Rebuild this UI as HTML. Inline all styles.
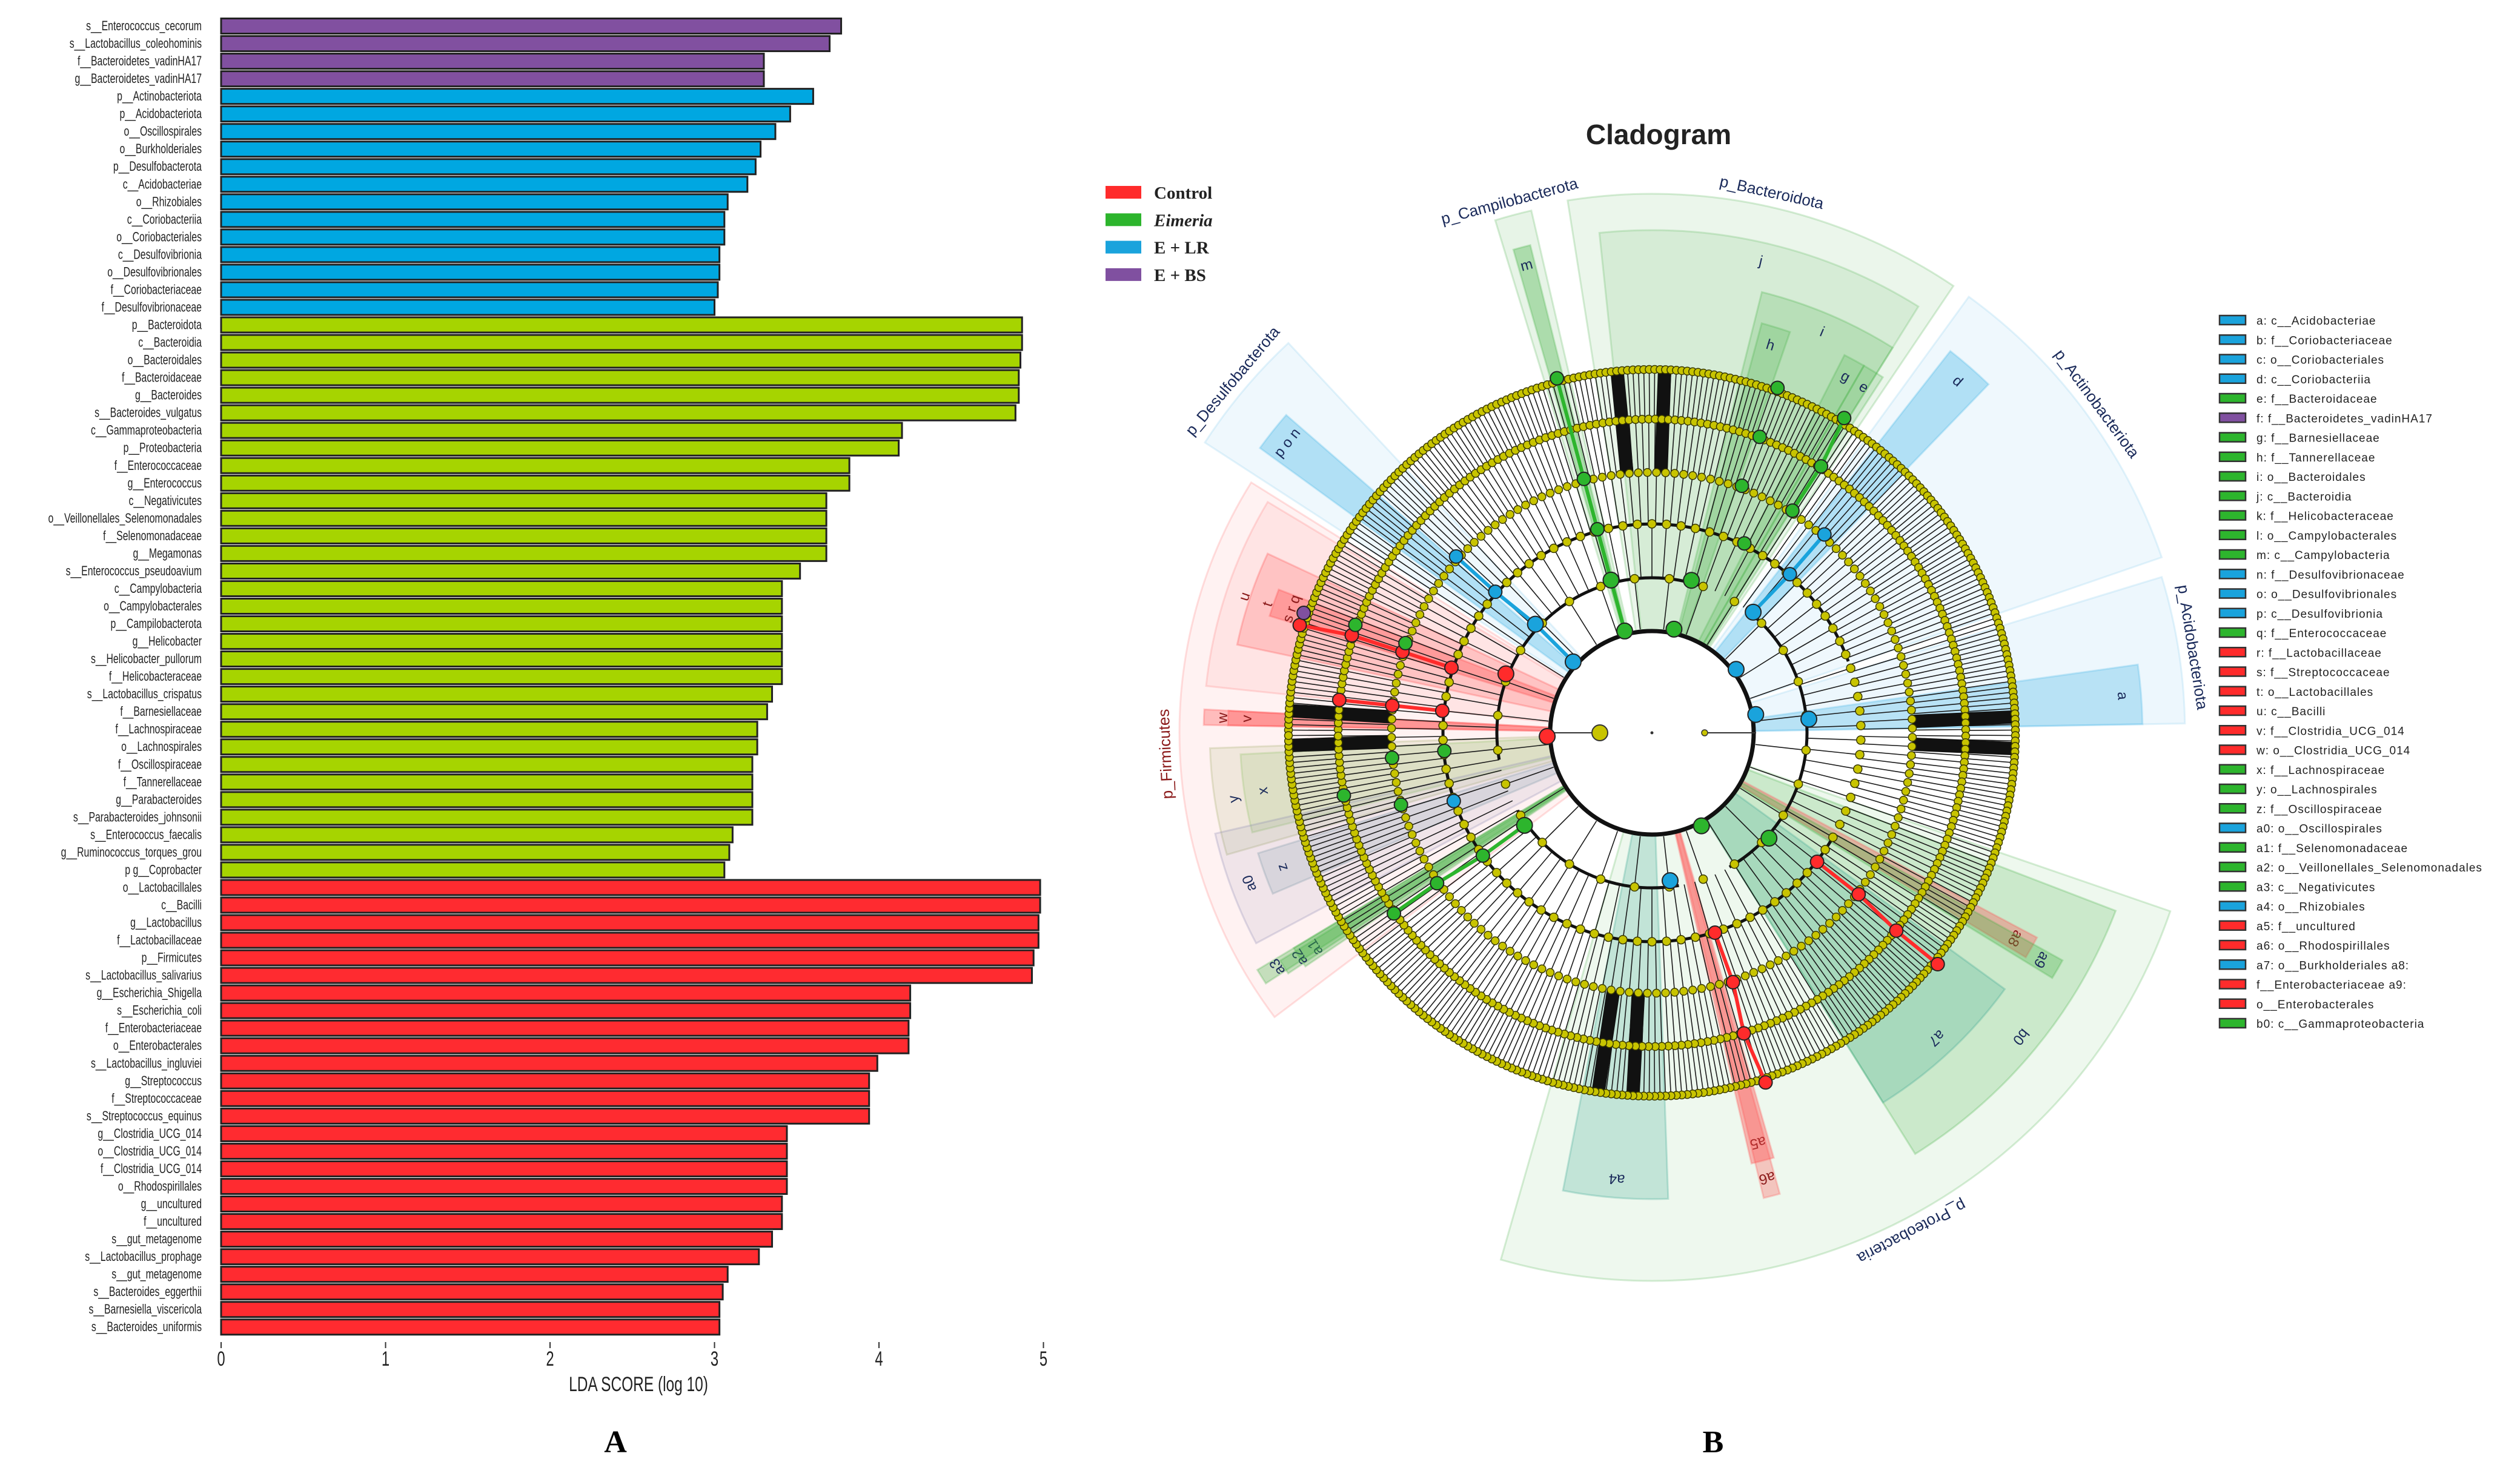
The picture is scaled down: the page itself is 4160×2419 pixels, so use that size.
<!DOCTYPE html>
<html><head><meta charset="utf-8"><style>
html,body{margin:0;padding:0;background:#fff;width:4160px;height:2419px;overflow:hidden}
svg{display:block}
text{font-family:"Liberation Sans",sans-serif}
</style></head><body>
<svg id="root" width="4160" height="2419" viewBox="0 0 4160 2419" xmlns="http://www.w3.org/2000/svg">
<g id="bars"></g>
<g id="clado"></g>
<g id="legends"></g>
<text x="1016" y="2398" font-weight="bold" font-size="52" text-anchor="middle" style="font-family:'Liberation Serif',serif">A</text>
<text x="2828" y="2398" font-weight="bold" font-size="52" text-anchor="middle" style="font-family:'Liberation Serif',serif">B</text>
<text x="2738" y="238" font-size="46" font-weight="bold" text-anchor="middle" fill="#222">Cladogram</text>
</svg>
<script>
const NS="http://www.w3.org/2000/svg";
// ---------- LDA bar chart data ----------
const barLabels=["s__Enterococcus_cecorum","s__Lactobacillus_coleohominis","f__Bacteroidetes_vadinHA17","g__Bacteroidetes_vadinHA17",
"p__Actinobacteriota","p__Acidobacteriota","o__Oscillospirales","o__Burkholderiales","p__Desulfobacterota","c__Acidobacteriae","o__Rhizobiales","c__Coriobacteriia","o__Coriobacteriales","c__Desulfovibrionia","o__Desulfovibrionales","f__Coriobacteriaceae","f__Desulfovibrionaceae",
"p__Bacteroidota","c__Bacteroidia","o__Bacteroidales","f__Bacteroidaceae","g__Bacteroides","s__Bacteroides_vulgatus","c__Gammaproteobacteria","p__Proteobacteria","f__Enterococcaceae","g__Enterococcus","c__Negativicutes","o__Veillonellales_Selenomonadales","f__Selenomonadaceae","g__Megamonas","s__Enterococcus_pseudoavium","c__Campylobacteria","o__Campylobacterales","p__Campilobacterota","g__Helicobacter","s__Helicobacter_pullorum","f__Helicobacteraceae","s__Lactobacillus_crispatus","f__Barnesiellaceae","f__Lachnospiraceae","o__Lachnospirales","f__Oscillospiraceae","f__Tannerellaceae","g__Parabacteroides","s__Parabacteroides_johnsonii","s__Enterococcus_faecalis","g__Ruminococcus_torques_grou","p g__Coprobacter",
"o__Lactobacillales","c__Bacilli","g__Lactobacillus","f__Lactobacillaceae","p__Firmicutes","s__Lactobacillus_salivarius","g__Escherichia_Shigella","s__Escherichia_coli","f__Enterobacteriaceae","o__Enterobacterales","s__Lactobacillus_ingluviei","g__Streptococcus","f__Streptococcaceae","s__Streptococcus_equinus","g__Clostridia_UCG_014","o__Clostridia_UCG_014","f__Clostridia_UCG_014","o__Rhodospirillales","g__uncultured","f__uncultured","s__gut_metagenome","s__Lactobacillus_prophage","s__gut_metagenome","s__Bacteroides_eggerthii","s__Barnesiella_viscericola","s__Bacteroides_uniformis"];
const barValues=[3.77,3.70,3.30,3.30,
3.60,3.46,3.37,3.28,3.25,3.20,3.08,3.06,3.06,3.03,3.03,3.02,3.00,
4.87,4.87,4.86,4.85,4.85,4.83,4.14,4.12,3.82,3.82,3.68,3.68,3.68,3.68,3.52,3.41,3.41,3.41,3.41,3.41,3.41,3.35,3.32,3.26,3.26,3.23,3.23,3.23,3.23,3.11,3.09,3.06,
4.98,4.98,4.97,4.97,4.94,4.93,4.19,4.19,4.18,4.18,3.99,3.94,3.94,3.94,3.44,3.44,3.44,3.44,3.41,3.41,3.35,3.27,3.08,3.05,3.03,3.03];
const barGroups=[3,3,3,3, 2,2,2,2,2,2,2,2,2,2,2,2,2,
1,1,1,1,1,1,1,1,1,1,1,1,1,1,1,1,1,1,1,1,1,1,1,1,1,1,1,1,1,1,1,1,
0,0,0,0,0,0,0,0,0,0,0,0,0,0,0,0,0,0,0,0,0,0,0,0,0,0];
const axisTicks=[0,1,2,3,4,5];
const groupColors=["#ff2b30","#a6d400","#00a7e1","#8150a0"];
const xS=v=>365+v*271.5, yS=i=>43+i*29.03;

function mk(tag,attrs,parent){const e=document.createElementNS(NS,tag);for(const k in attrs)e.setAttribute(k,attrs[k]);parent.appendChild(e);return e;}
const B=document.getElementById('bars');
barLabels.forEach((lab,i)=>{
  const r=mk('rect',{x:xS(0),y:yS(i)-12.5,width:xS(barValues[i])-xS(0),height:25,fill:groupColors[barGroups[i]],stroke:'#222','stroke-width':3},B);
  
  
  const t=mk('text',{transform:`translate(333,${yS(i)+7}) scale(0.72,1)`,'font-size':22,'text-anchor':'end',fill:'#222'},B);
  t.textContent=lab;
  
  
});
axisTicks.forEach(v=>{
  const l=mk('line',{x1:xS(v),x2:xS(v),y1:2216,y2:2226,stroke:'#333','stroke-width':2},B);
  
  
  const t=mk('text',{transform:`translate(${xS(v)},2255) scale(0.7,1)`,'font-size':34,'text-anchor':'middle',fill:'#222'},B);
  t.textContent=v;
  
  
});
{const t=mk('text',{transform:'translate(1054,2297) scale(0.72,1)','font-size':34,'text-anchor':'middle',fill:'#222'},B);
t.textContent='LDA SCORE (log 10)';

}

// ---------- Cladogram ----------
const CX=2727, CY=1210;
const P=(r,a)=>[CX+r*Math.cos(a*Math.PI/180),CY+r*Math.sin(a*Math.PI/180)];
const C=document.getElementById('clado');
const sectorNames=["p__Bacteroidota","j","i","h","g","e","p__Campilobacterota","m","p__Actinobacteriota","d","p__Acidobacteriota","a","p__Proteobacteria","b0","a7","a4","a5","a6","a8","a9","p__Firmicutes","u","t","s r q","w","v","y","x","a0","z","a1","a2","a3","p__Desulfobacterota","p o n"];
const sectorA0=[-99,-96,-76,-75,-63,-60,-107,-106,-54,-52,-17,-8,19,21,36,88,74,74.5,28,29,143,186,192,197,181,181,164,166,152,157,146,146.5,147,213,216];
const sectorA1=[-56,-58,-58,-71,-60,-57,-103,-104,-19,-46,-1,-1,106,58,58,101,77,76.5,31,31.5,212,211,205,201,183,183,178,177,167,163,149,148.5,149,227,221];
const sectorR1=[890,830,750,700,700,700,885,830,890,800,880,810,905,820,720,770,730,790,720,775,780,740,700,660,740,700,730,680,740,680,690,720,760,880,800];
const sectorFill=["#5cb85c","#5cb85c","#3fae3f","#3fae3f","#3fae3f","#3fae3f","#5cb85c","#3fae3f","#8fd0f0","#3fb4e6","#8fd0f0","#3fb4e6","#5cb85c","#3fae3f","#2aa08a","#2aa08a","#ff5050","#ff5050","#ff5050","#3fae3f","#ff8080","#ff8080","#ff4040","#ff4040","#ff4040","#ff4040","#9aa860","#8abf60","#8080b0","#7090a0","#3fae3f","#3fae3f","#3fae3f","#8fd0f0","#3fb4e6"];
const sectorOp=[0.12,0.15,0.2,0.2,0.2,0.2,0.15,0.35,0.14,0.35,0.16,0.3,0.1,0.2,0.22,0.22,0.4,0.3,0.35,0.3,0.1,0.12,0.2,0.3,0.3,0.3,0.15,0.18,0.12,0.18,0.3,0.3,0.3,0.14,0.35];
function wedge(a0,a1,r0,r1){const [x0,y0]=P(r1,a0),[x1,y1]=P(r1,a1),[x2,y2]=P(r0,a1),[x3,y3]=P(r0,a0);const lg=(a1-a0)>180?1:0;
return `M${x0},${y0}A${r1},${r1} 0 ${lg} 1 ${x1},${y1}L${x2},${y2}A${r0},${r0} 0 ${lg} 0 ${x3},${y3}Z`;}
sectorNames.forEach((n,i)=>{
  const p=mk('path',{d:wedge(sectorA0[i],sectorA1[i],170,sectorR1[i]),fill:sectorFill[i],'fill-opacity':sectorOp[i],stroke:sectorFill[i],'stroke-opacity':0.25,'stroke-width':3},C);
  
  
  const am=(sectorA0[i]+sectorA1[i])/2, big=n.startsWith('p__');
  const lr=big?sectorR1[i]+22:sectorR1[i]-32;
  const [tx,ty]=P(lr,am);
  const t=mk('text',{x:tx,y:ty,'font-size':big?26:24,'text-anchor':'middle','dominant-baseline':'middle',fill:(sectorFill[i].startsWith('#ff')?'#8b1a1a':'#1a2a5a'),transform:`rotate(${am+90},${tx},${ty})`},C);
  t.textContent=n.replace(/__/,'_');
  
  
});
const ringR=[172,256,345,430,518,600];
const ringCount=[0,28,90,180,300,420];
const sk=mk('g',{},C);


let d='';
for(let k=1;k<ringR.length;k++){for(let i=0;i<ringCount[k];i++){const a=-180+(i+0.5)*360/ringCount[k];const [x0,y0]=P(ringR[k-1],a),[x1,y1]=P(ringR[k],a);d+=`M${x0.toFixed(1)},${y0.toFixed(1)}L${x1.toFixed(1)},${y1.toFixed(1)}`;}}
mk('path',{d,stroke:'#1a1a1a','stroke-width':1.6,fill:'none'},sk);
mk('circle',{cx:CX,cy:CY,r:168,fill:'none',stroke:'#111','stroke-width':7},sk);
[[256,-190,-70],[256,-50,60],[256,80,150],[345,-200,-20],[345,30,170]].forEach(a=>{const [x0,y0]=P(a[0],a[1]),[x1,y1]=P(a[0],a[2]);mk('path',{d:`M${x0},${y0}A${a[0]},${a[0]} 0 ${(a[2]-a[1])>180?1:0} 1 ${x1},${y1}`,fill:'none',stroke:'#111','stroke-width':5},sk);});
const thickA=[-2.5,2.5,-95.5,-88,178,183.5,93,98.5];
thickA.forEach(a=>{const [x0,y0]=P(430,a),[x1,y1]=P(606,a);mk('line',{x1:x0,y1:y0,x2:x1,y2:y1,stroke:'#111','stroke-width':22},sk);});
const dots=mk('g',{},C);


for(let k=1;k<ringR.length;k++){for(let i=0;i<ringCount[k];i++){const a=-180+(i+0.5)*360/ringCount[k];const [x,y]=P(ringR[k],a);mk('circle',{cx:x.toFixed(1),cy:y.toFixed(1),r:k<3?7:6.5,fill:'#c8c400',stroke:'#3a3a00','stroke-width':1.5},dots);}}
mk('line',{x1:CX-172,y1:CY,x2:CX-86,y2:CY,stroke:'#333','stroke-width':2},C);
mk('line',{x1:CX+87,y1:CY,x2:CX+172,y2:CY,stroke:'#333','stroke-width':2},C);
mk('circle',{cx:CX-86,cy:CY,r:13,fill:'#c8c400',stroke:'#333','stroke-width':2},C);
mk('circle',{cx:CX+87,cy:CY,r:5,fill:'#c8c400',stroke:'#333','stroke-width':1.5},C);
mk('circle',{cx:CX,cy:CY,r:2.5,fill:'#333'},C);
const sigAngle=[178,202,198,198,198,197,186,186,186,38,38,39,39,72.5,72,73,72,
-75.5,-78,-64,-105,-105,-105,-105,-105,62,42,-57.7,-57.6,-58.6,-70,-70,-70,174.5,175,168.5,164,144,144,145,145,200,200,
222,223,222,222,-37,-50,-49,-49,-10,-5,161,83,199];
const sigRadius=[173,260,348,433,521,608,348,431,519,346,433,519,607,346,433,519,607,
260,175,348,174,261,348,434,606,174,260,434,521,609,606,520,434,431,344,519,431,260,345,433,520,521,433,
175,263,348,435,174,260,347,434,174,260,346,246,608];
const sigGroup=[0,0,0,0,0,0,0,0,0,0,0,0,0,0,0,0,0,
1,1,1,1,1,1,1,1,1,1,1,1,1,1,1,1,1,1,1,1,1,1,1,1,1,1,
2,2,2,2,2,2,2,2,2,2,2,2,3];
const nodeColors=["#ff2b2b","#2db52d","#1aa3dc","#8050a0"];
for(let i=0;i<sigAngle.length-1;i++){if(sigGroup[i]===sigGroup[i+1]&&Math.abs(sigAngle[i]-sigAngle[i+1])<3&&sigRadius[i+1]>sigRadius[i]){const [x0,y0]=P(sigRadius[i],sigAngle[i]),[x1,y1]=P(sigRadius[i+1],sigAngle[i+1]);const l=mk('line',{x1:x0,y1:y0,x2:x1,y2:y1,stroke:nodeColors[sigGroup[i]],'stroke-width':6},C);}}
sigAngle.forEach((a,i)=>{const [x,y]=P(sigRadius[i],a);const c=mk('circle',{cx:x,cy:y,r:sigRadius[i]<300?13:11,fill:nodeColors[sigGroup[i]],stroke:'#222','stroke-width':2},C);

});

// ---------- Legends ----------
const L=document.getElementById('legends');
const groupNames=["Control","Eimeria","E + LR","E + BS"];
groupNames.forEach((n,i)=>{const y=318+i*45.3;
const r=mk('rect',{x:1825,y:y-11,width:59,height:21,fill:nodeColors[i]},L);


const t=mk('text',{x:1905,y:y+10,'font-size':29,'font-weight':'bold',fill:'#222',style:"font-family:'Liberation Serif',serif"+(i===1?';font-style:italic':'')},L);
t.textContent=n;

});
const keyText=["a: c__Acidobacteriae","b: f__Coriobacteriaceae","c: o__Coriobacteriales","d: c__Coriobacteriia","e: f__Bacteroidaceae","f: f__Bacteroidetes_vadinHA17","g: f__Barnesiellaceae","h: f__Tannerellaceae","i: o__Bacteroidales","j: c__Bacteroidia","k:  f__Helicobacteraceae","l: o__Campylobacterales","m: c__Campylobacteria","n: f__Desulfovibrionaceae","o: o__Desulfovibrionales","p: c__Desulfovibrionia","q: f__Enterococcaceae","r: f__Lactobacillaceae","s: f__Streptococcaceae","t: o__Lactobacillales","u: c__Bacilli","v: f__Clostridia_UCG_014","w: o__Clostridia_UCG_014","x: f__Lachnospiraceae","y:  o__Lachnospirales","z:  f__Oscillospiraceae","a0: o__Oscillospirales","a1: f__Selenomonadaceae","a2: o__Veillonellales_Selenomonadales","a3: c__Negativicutes","a4: o__Rhizobiales","a5: f__uncultured","a6: o__Rhodospirillales","a7: o__Burkholderiales a8:","f__Enterobacteriaceae a9:","o__Enterobacterales","b0: c__Gammaproteobacteria"];
const keyGroup=[2,2,2,2,1,3,1,1,1,1,1,1,1,2,2,2,1,0,0,0,0,0,0,1,1,1,2,1,1,1,2,0,0,2,0,0,1];
keyText.forEach((s,i)=>{const y=529+i*32.25;
const r=mk('rect',{x:3664,y:y-8,width:43,height:15,fill:nodeColors[keyGroup[i]],stroke:'#333','stroke-width':2.5},L);


const t=mk('text',{x:3725,y:y+7,'font-size':19,'letter-spacing':1,fill:'#222'},L);
t.textContent=s;

});
</script>
</body></html>
